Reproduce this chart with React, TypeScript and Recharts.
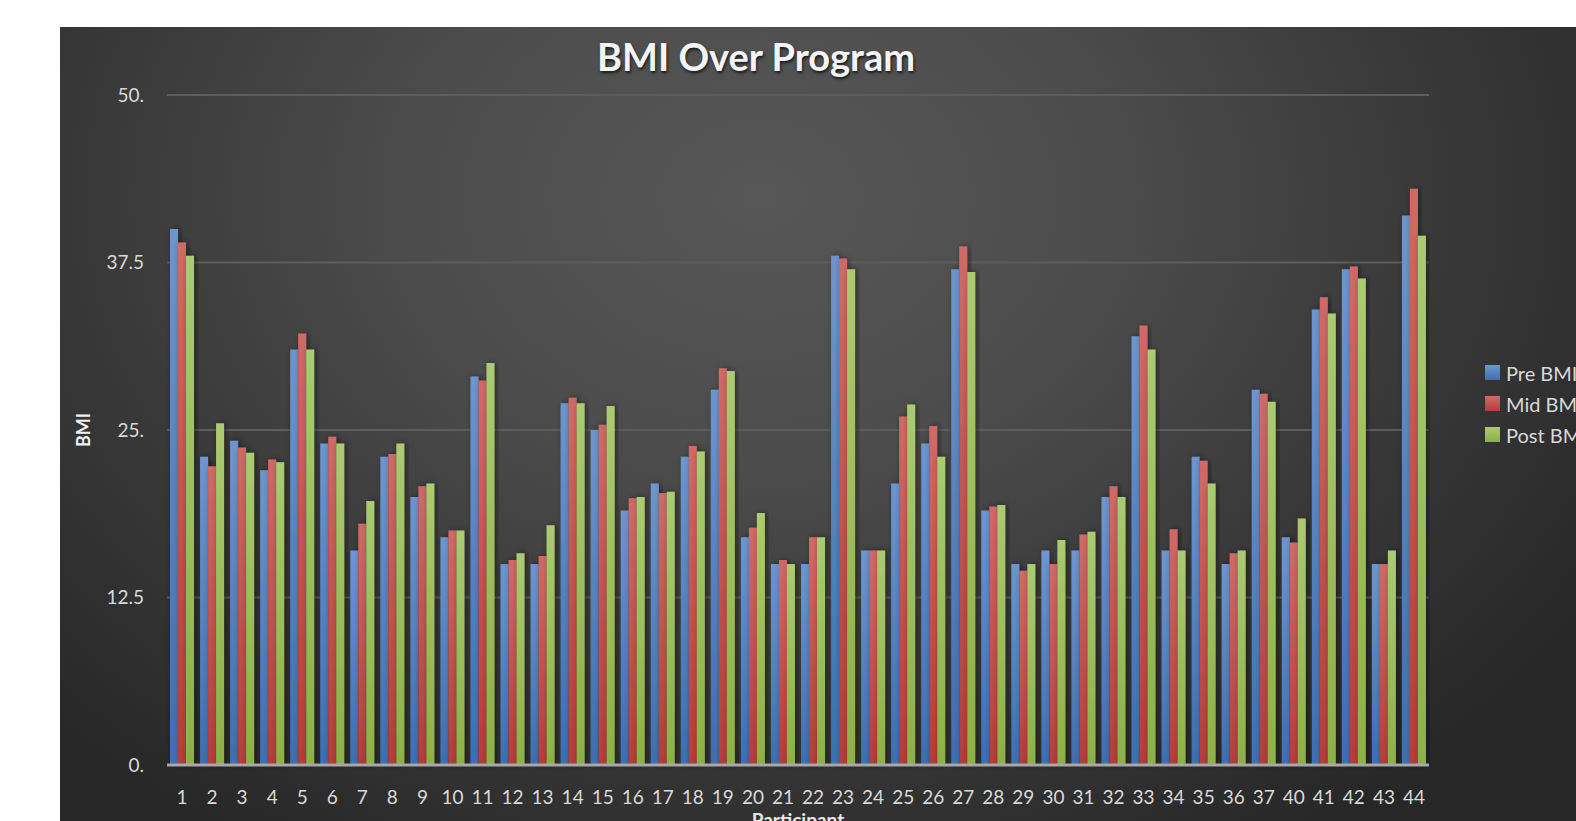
import React from "react";
import { BarChart, Bar, XAxis, YAxis, CartesianGrid } from "recharts";

const participants = [
  "1", "2", "3", "4", "5", "6", "7", "8", "9", "10", "11", "12", "13", "14", "15",
  "16", "17", "18", "19", "20", "21", "22", "23", "24", "25", "26", "27", "28", "29",
  "30", "31", "32", "33", "34", "35", "36", "37", "40", "41", "42", "43", "44",
];
const preBmi = [
  40, 23, 24.2, 22, 31, 24, 16, 23, 20, 17, 29, 15, 15, 27, 25, 19, 21, 23, 28, 17, 15,
  15, 38, 16, 21, 24, 37, 19, 15, 16, 16, 20, 32, 16, 23, 15, 28, 17, 34, 37, 15, 41,
];
const midBmi = [
  39, 22.3, 23.7, 22.8, 32.2, 24.5, 18, 23.2, 20.8, 17.5, 28.7, 15.3, 15.6, 27.4, 25.4,
  19.9, 20.3, 23.8, 29.6, 17.7, 15.3, 17, 37.8, 16, 26, 25.3, 38.7, 19.3, 14.5, 15, 17.2,
  20.8, 32.8, 17.6, 22.7, 15.8, 27.7, 16.6, 34.9, 37.2, 15, 43,
];
const postBmi = [
  38, 25.5, 23.3, 22.6, 31, 24, 19.7, 24, 21, 17.5, 30, 15.8, 17.9, 27, 26.8, 20, 20.4,
  23.4, 29.4, 18.8, 15, 17, 37, 16, 26.9, 23, 36.8, 19.4, 15, 16.8, 17.4, 20, 31, 16, 21,
  16, 27.1, 18.4, 33.7, 36.3, 16, 39.5,
];
const seriesNames = ["Pre BMI", "Mid BMI", "Post BMI"];
const yTicks = [0, 12.5, 25, 37.5, 50];

const rows = participants.map((p, i) => ({
  name: p,
  pre: preBmi[i],
  mid: midBmi[i],
  post: postBmi[i],
}));

const seriesKeys = ["pre", "mid", "post"];
const gradients = [
  ["#6d96cf", "#3c6fb3"],
  ["#d06a67", "#b43d3a"],
  ["#abca72", "#8db046"],
];

const FONT = "Lato, 'Open Sans', sans-serif";

const fmtY = (v: number) => (Number.isInteger(v) ? `${v}.` : `${v}`);

// y axis title, centred on the plot height
const BmiLabel = (props: any) => {
  const vb = props.viewBox || {};
  const x = vb.x + 83;
  const y = vb.y + vb.height / 2;
  return (
    <text
      x={x}
      y={y}
      transform={`rotate(-90, ${x}, ${y})`}
      textAnchor="middle"
      dominantBaseline="central"
      fill="#f0f0f0"
      fontSize={18}
      fontWeight={700}
      fontFamily={FONT}
    >
      BMI
    </text>
  );
};

export default function App() {
  return (
    <div style={{ position: "absolute", left: 0, top: 0, width: 1576, height: 821, background: "#fff", overflow: "hidden", fontFamily: FONT }}>
      <div
        style={{
          position: "absolute",
          left: 60,
          top: 27,
          width: 1516,
          height: 794,
          background:
            "radial-gradient(ellipse 1000px 760px at 700px 170px, #575757 0%, #4c4c4c 35%, #3a3a3a 65%, #272727 100%)",
        }}
      />
      <div
        style={{
          position: "absolute",
          left: 0,
          width: 1512,
          top: 33,
          textAlign: "center",
          color: "#f4f4f4",
          fontWeight: 700,
          fontSize: 38,
          textShadow: "1px 2px 3px rgba(0,0,0,0.7)",
        }}
      >
        BMI Over Program
      </div>
      <div style={{ position: "absolute", left: 0, top: 0 }}>
        <BarChart
          width={1576}
          height={821}
          data={rows}
          margin={{ top: 95, right: 147, left: 0, bottom: 0 }}
          barCategoryGap="10%"
          barGap={0}
        >
          <defs>
            {seriesKeys.map((k, i) => (
              <linearGradient key={k} id={`g-${k}`} x1="0" y1="0" x2="0" y2="1">
                <stop offset="0%" stopColor={gradients[i][0]} />
                <stop offset="100%" stopColor={gradients[i][1]} />
              </linearGradient>
            ))}
            <filter id="shadow" x="-50%" y="-5%" width="200%" height="110%">
              <feDropShadow dx="2" dy="0" stdDeviation="3" floodColor="#000" floodOpacity="0.45" />
            </filter>
          </defs>
          <CartesianGrid vertical={false} stroke="#5d5d5d" strokeWidth={2} />
          <XAxis
            dataKey="name"
            interval={0}
            tickSize={0}
            tickMargin={26}
            height={56}
            axisLine={{ stroke: "#a8a8a8", strokeWidth: 3 }}
            tick={{ fill: "#d9d9d9", fontSize: 19, fontFamily: FONT }}
            label={{
              value: "Participant",
              position: "bottom",
              offset: -7,
              fill: "#e8e8e8",
              fontSize: 19,
              fontWeight: 700,
              fontFamily: FONT,
            }}
          />
          <YAxis
            domain={[0, 50]}
            ticks={yTicks}
            width={167}
            tickSize={0}
            tickMargin={23}
            axisLine={false}
            tickFormatter={fmtY}
            tick={{ fill: "#d9d9d9", fontSize: 19, fontFamily: FONT }}
            label={<BmiLabel />}
          />
          {seriesKeys.map((k, i) => (
            <Bar
              key={k}
              dataKey={k}
              name={seriesNames[i]}
              fill={`url(#g-${k})`}
              filter="url(#shadow)"
              isAnimationActive={false}
            />
          ))}
        </BarChart>
      </div>
      <div style={{ position: "absolute", left: 1485, top: 357 }}>
        {seriesNames.map((n, i) => (
          <div key={n} style={{ display: "flex", alignItems: "center", height: 31, color: "#d9d9d9", fontSize: 20, whiteSpace: "nowrap" }}>
            <span style={{ display: "inline-block", width: 15, height: 15, marginRight: 6, background: `linear-gradient(${gradients[i][0]}, ${gradients[i][1]})` }} />
            {n}
          </div>
        ))}
      </div>
    </div>
  );
}
